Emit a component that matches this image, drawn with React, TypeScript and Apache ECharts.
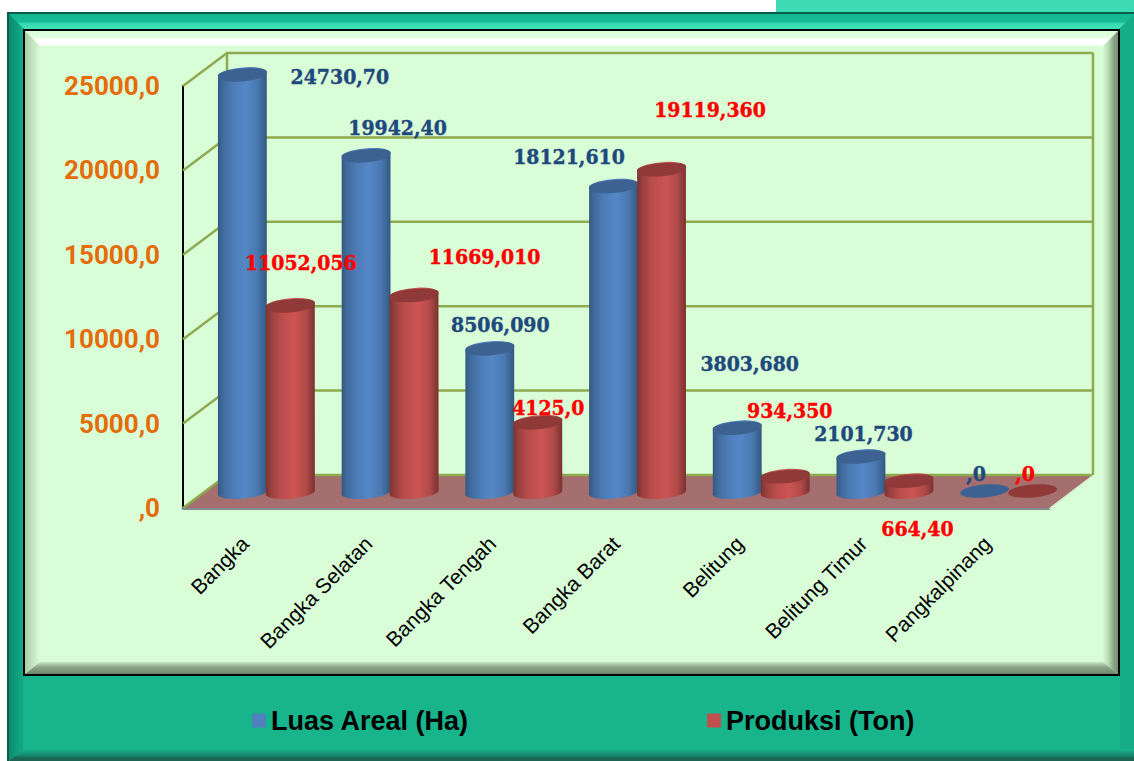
import React, { useEffect, useRef } from "react";
import * as echarts from "echarts";

const categories = ["Bangka", "Bangka Selatan", "Bangka Tengah", "Bangka Barat", "Belitung", "Belitung Timur", "Pangkalpinang"];
const luasAreal = [24730.7, 19942.4, 8506.09, 18121.61, 3803.68, 2101.73, 0];
const produksi = [11052.056, 11669.01, 4125.0, 19119.36, 934.35, 664.4, 0];
const luasLabels = ["24730,70", "19942,40", "8506,090", "18121,610", "3803,680", "2101,730", ",0"];
const produksiLabels = ["11052,056", "11669,010", "4125,0", "19119,360", "934,350", "664,40", ",0"];
const yTicks = [0, 5000, 10000, 15000, 20000, 25000];

// label offsets relative to the top of each cylinder
const luasLabelShift = [[97, 2], [31, -27], [10, -23], [-45, -29], [12, -64], [2, -23], [-9, -18]];
const produksiLabelShift = [[10, -42], [70, -38], [10, -14], [48, -59], [4, -65], [8, 48], [-8, -18]];

const DEPTH_X = 44;
const DEPTH_Y = -33;
const RX = 24.5;
const RY = 6.5;
const TILT = 5;
const sinT = Math.sin((TILT * Math.PI) / 180);
const cosT = Math.cos((TILT * Math.PI) / 180);

const grad = (stops: [number, string][]) =>
  new echarts.graphic.LinearGradient(0, 0, 1, 0, stops.map(([offset, color]) => ({ offset, color })));

const blueBody: [number, string][] = [[0, "#34587f"], [0.1, "#3f6a9a"], [0.3, "#4c7bb5"], [0.55, "#5587c8"], [0.8, "#4a78b0"], [0.95, "#38608c"], [1, "#33567d"]];
const redBody: [number, string][] = [[0, "#7a3130"], [0.1, "#973f3d"], [0.3, "#b84d4b"], [0.58, "#cc5553"], [0.82, "#b04a48"], [0.95, "#873836"], [1, "#7a3130"]];

function cylinder(side: number, stops: [number, string][], topColor: string) {
  return (params: any, api: any) => {
    const value = api.value(1);
    const p = api.coord([api.value(0), value]);
    const base = api.coord([api.value(0), 0]);
    const cx = p[0] + DEPTH_X / 2 + side * 24 - 0.5;
    const by = base[1] + DEPTH_Y / 2 - 0.5;
    const ty = value > 0 ? p[1] + DEPTH_Y / 2 + 1 : by;
    const dx = RX * cosT;
    const dy = RX * sinT;
    const children: any[] = [];
    if (value > 0) {
      const d = `M${cx - dx} ${ty + dy}L${cx - dx} ${by + dy}A${RX} ${RY} ${-TILT} 0 0 ${cx + dx} ${by - dy}L${cx + dx} ${ty - dy}A${RX} ${RY} ${-TILT} 0 0 ${cx - dx} ${ty + dy}Z`;
      children.push({ type: "path", shape: { pathData: d }, style: { fill: grad(stops) } });
    }
    children.push({
      type: "ellipse",
      shape: { cx: 0, cy: 0, rx: RX, ry: RY },
      x: cx,
      y: ty,
      rotation: (TILT * Math.PI) / 180,
      style: { fill: topColor },
    });
    return { type: "group", children };
  };
}

function labelRenderer(side: number, texts: string[], shifts: number[][], color: string) {
  return (params: any, api: any) => {
    const p = api.coord([api.value(0), api.value(1)]);
    const i = params.dataIndex;
    return {
      type: "text",
      x: p[0] + DEPTH_X / 2 + side * 24 + shifts[i][0],
      y: p[1] + DEPTH_Y / 2 + shifts[i][1],
      style: {
        text: texts[i],
        fill: color,
        stroke: color,
        lineWidth: 0.4,
        font: 'bold 21px "DejaVu Serif Condensed", "DejaVu Serif"',
        textAlign: "center",
        textVerticalAlign: "middle",
      },
    };
  };
}

function wallsRenderer(params: any, api: any) {
  const cs = params.coordSys;
  const left = cs.x;
  const right = cs.x + cs.width;
  const base = api.coord([0, 0])[1];
  const olive = { stroke: "#8eaa50", lineWidth: 2.5, fill: "none" };
  const children: any[] = [
    {
      type: "polygon",
      shape: { points: [[left, base], [right, base], [right + DEPTH_X, base + DEPTH_Y], [left + DEPTH_X, base + DEPTH_Y]] },
      style: { fill: "#a46f6e" },
    },
  ];
  yTicks.forEach((t) => {
    const y = api.coord([0, t])[1];
    children.push({
      type: "polyline",
      shape: { points: [[left, y], [left + DEPTH_X, y + DEPTH_Y], [right + DEPTH_X, y + DEPTH_Y]] },
      style: olive,
    });
  });
  const topY = api.coord([0, yTicks[yTicks.length - 1]])[1];
  children.push({ type: "line", shape: { x1: left + DEPTH_X, y1: topY + DEPTH_Y, x2: left + DEPTH_X, y2: base + DEPTH_Y }, style: olive });
  children.push({ type: "line", shape: { x1: right + DEPTH_X, y1: topY + DEPTH_Y, x2: right + DEPTH_X, y2: base + DEPTH_Y }, style: olive });
  children.push({
    type: "line",
    shape: { x1: right, y1: base + 1, x2: right + DEPTH_X, y2: base + DEPTH_Y },
    style: { stroke: "#c9e6c2", lineWidth: 1 },
  });
  return { type: "group", children };
}

const vGrad = (stops: [number, string][]) =>
  new echarts.graphic.LinearGradient(0, 0, 0, 1, stops.map(([offset, color]) => ({ offset, color })));
const hGrad = grad;

function frameElements() {
  const Z = -10;
  const poly = (points: number[][], fill: any) => ({ type: "polygon", z: Z, silent: true, shape: { points }, style: { fill } });
  const rect = (x: number, y: number, width: number, height: number, fill: any) => ({ type: "rect", z: Z, silent: true, shape: { x, y, width, height }, style: { fill } });
  return [
    rect(776, 0, 358, 12, "#3ddbb4"),
    rect(7, 12, 1127, 749, "#0c5c4a"),
    rect(9, 14, 1125, 747, "#18b48c"),
    poly([[1134, 14], [1134, 749], [1120, 749], [1119, 29]], "#15ad87"),
    poly([[9, 14], [1134, 14], [1119, 29], [23, 29]], vGrad([[0, "#12b78e"], [0.5, "#16bb93"], [0.65, "#38d9b2"], [1, "#3fe3bb"]])),
    poly([[9, 14], [24, 29], [24, 749], [9, 761]], hGrad([[0, "#0d8a6c"], [0.7, "#10a481"], [0.92, "#12a886"], [1, "#1ab490"]])),
    poly([[24, 749], [1134, 749], [1134, 761], [9, 761]], vGrad([[0, "#18b48c"], [0.25, "#17a07e"], [0.65, "#147e64"], [0.7, "#1a6a56"], [1, "#1c6451"]])),
    rect(23, 29, 1097, 647, "#000000"),
    rect(25, 31, 1093, 643, "#d9fdd7"),
    poly([[25, 31], [1118, 31], [1103, 46], [40, 46]], vGrad([[0, "#dcfdda"], [0.45, "#e3fde1"], [0.55, "#ffffff"], [0.9, "#ffffff"], [1, "#ecfdea"]])),
    poly([[25, 31], [40, 46], [40, 662], [25, 674]], hGrad([[0, "#a9cfa6"], [0.5, "#c2e4bf"], [1, "#d9fdd7"]])),
    poly([[1118, 31], [1103, 46], [1103, 662], [1118, 674]], hGrad([[0, "#d5f8d2"], [0.35, "#b9dcb6"], [0.7, "#8aa687"], [1, "#73907a"]])),
    poly([[25, 674], [40, 662], [1103, 662], [1118, 674]], vGrad([[0, "#c9e6c3"], [0.4, "#8fa88b"], [1, "#6b8569"]])),
  ];
}

export default function App() {
  const ref = useRef<HTMLDivElement>(null);
  useEffect(() => {
    document.body.style.margin = "0";
    const chart = echarts.init(ref.current!, undefined, { renderer: "svg" });
    const toPairs = (arr: number[]) => arr.map((v, i) => [i, v]);
    chart.setOption({
      animation: false,
      backgroundColor: "#ffffff",
      graphic: { elements: frameElements() },
      grid: { left: 183, top: 86, width: 866, height: 422, containLabel: false },
      legend: {
        left: 252,
        top: 707,
        padding: 0,
        itemWidth: 14,
        itemHeight: 14,
        itemGap: 238,
        icon: "rect",
        textStyle: { color: "#000", fontFamily: "Liberation Sans", fontWeight: "bold", fontSize: 27 },
        data: [
          { name: "Luas Areal (Ha)", icon: "rect", itemStyle: { color: "#4f81bd" } },
          { name: "Produksi (Ton)", icon: "rect", itemStyle: { color: "#c0504d" } },
        ],
      },
      xAxis: {
        type: "category",
        data: categories,
        axisTick: { show: false },
        axisLine: { show: true, lineStyle: { color: "#7f8f8f", width: 3 } },
        axisLabel: { interval: 0, rotate: 45, margin: 32, color: "#000", fontFamily: "Liberation Sans", fontSize: 21 },
      },
      yAxis: {
        type: "value",
        min: 0,
        max: 25000,
        interval: 5000,
        splitLine: { show: false },
        axisTick: { show: false },
        axisLine: { show: true, lineStyle: { color: "#000", width: 2 } },
        axisLabel: {
          margin: 23,
          color: "#e46c0a",
          fontFamily: "Roboto",
          fontWeight: "bold",
          fontSize: 26,
          padding: [4, 0, 0, 0],
          formatter: (v: number) => (v === 0 ? ",0" : `${v},0`),
        },
      },
      series: [
        { type: "custom", name: "walls", silent: true, clip: false, z: 1, data: [[0, 0]], encode: { x: 0, y: 1 }, renderItem: wallsRenderer },
        { type: "custom", name: "Luas Areal (Ha)", clip: false, z: 2, data: toPairs(luasAreal), encode: { x: 0, y: 1 }, itemStyle: { color: "#4f81bd" }, renderItem: cylinder(-1, blueBody, "#3d6292") },
        { type: "custom", name: "Produksi (Ton)", clip: false, z: 3, data: toPairs(produksi), encode: { x: 0, y: 1 }, itemStyle: { color: "#c0504d" }, renderItem: cylinder(1, redBody, "#8f3a38") },
        { type: "custom", name: "luasLabels", clip: false, z: 4, data: toPairs(luasAreal), encode: { x: 0, y: 1 }, renderItem: labelRenderer(-1, luasLabels, luasLabelShift, "#1f497d") },
        { type: "custom", name: "produksiLabels", clip: false, z: 4, data: toPairs(produksi), encode: { x: 0, y: 1 }, renderItem: labelRenderer(1, produksiLabels, produksiLabelShift, "#ff0000") },
      ],
    });
    return () => chart.dispose();
  }, []);
  return <div ref={ref} style={{ position: "absolute", left: 0, top: 0, width: 1134, height: 761 }} />;
}
